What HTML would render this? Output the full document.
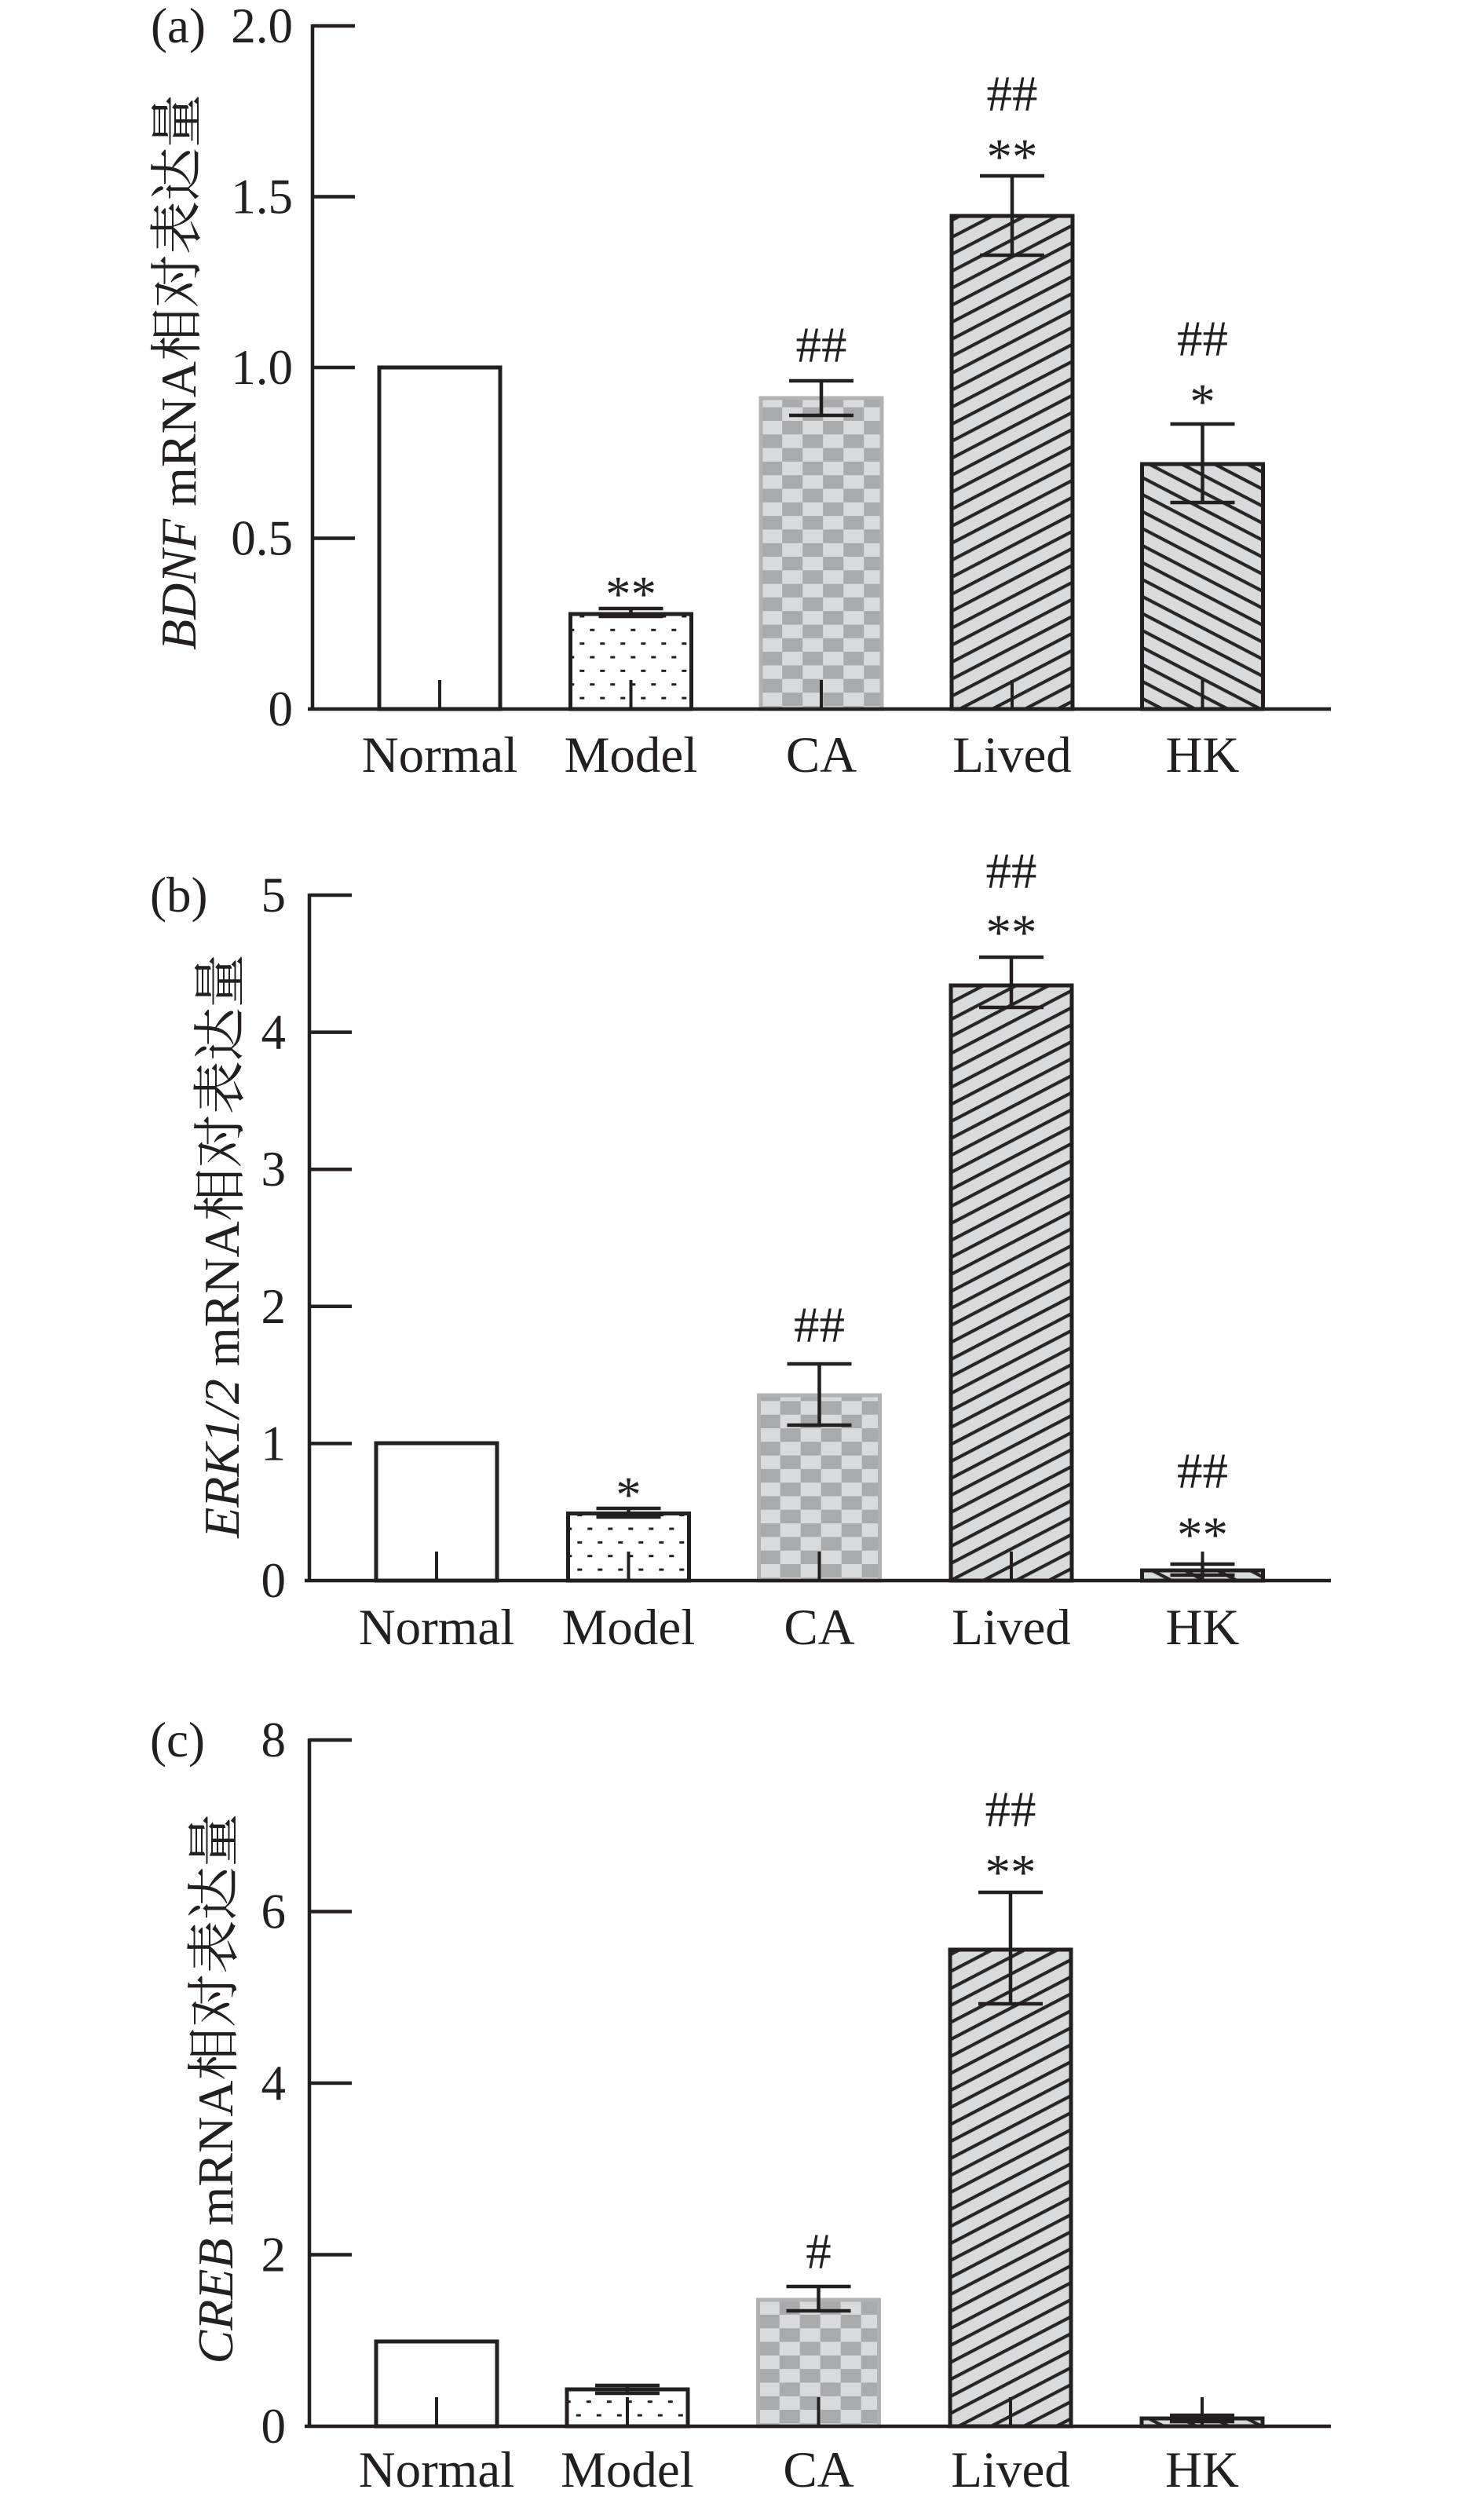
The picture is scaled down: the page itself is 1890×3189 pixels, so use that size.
<!DOCTYPE html>
<html><head><meta charset="utf-8">
<style>
html,body{margin:0;padding:0;background:#fff;}
svg{display:block;}
text{font-family:"Liberation Serif","Noto Serif CJK SC",serif;fill:#231f20;}
</style></head>
<body>
<svg width="1890" height="3189" viewBox="0 0 1890 3189" xmlns="http://www.w3.org/2000/svg">
<defs>
  <pattern id="hatchR" patternUnits="userSpaceOnUse" width="40" height="19.2" patternTransform="rotate(-27.5)">
    <rect width="40" height="19.2" fill="#d9dadc"/>
    <rect y="0" width="40" height="4.2" fill="#262626"/>
  </pattern>
  <pattern id="hatchL" patternUnits="userSpaceOnUse" width="40" height="19.2" patternTransform="rotate(27.5)">
    <rect width="40" height="19.2" fill="#d9dadc"/>
    <rect y="0" width="40" height="4.2" fill="#262626"/>
  </pattern>
  <pattern id="dotA" patternUnits="userSpaceOnUse" x="751.3" y="800.8" width="26" height="34.7">
    <rect width="26" height="34.7" fill="#fff"/>
    <rect x="0" y="0" width="6" height="3" fill="#231f20"/>
    <rect x="13" y="17.35" width="6" height="3" fill="#231f20"/>
  </pattern>
  <pattern id="dotB" patternUnits="userSpaceOnUse" x="748.3" y="1910.8" width="26" height="34.7">
    <rect width="26" height="34.7" fill="#fff"/>
    <rect x="0" y="0" width="6" height="3" fill="#231f20"/>
    <rect x="13" y="17.35" width="6" height="3" fill="#231f20"/>
  </pattern>
  <pattern id="dotC" patternUnits="userSpaceOnUse" x="746.8" y="2987.8" width="26" height="34.7">
    <rect width="26" height="34.7" fill="#fff"/>
    <rect x="0" y="0" width="6" height="3" fill="#231f20"/>
    <rect x="13" y="17.35" width="6" height="3" fill="#231f20"/>
  </pattern>
  <pattern id="chkA" patternUnits="userSpaceOnUse" x="970.2" y="864.7" width="52" height="34.6">
    <rect width="52" height="34.6" fill="#a9aaac"/>
    <rect x="26" y="0" width="26" height="17.3" fill="#d9dadb"/>
    <rect x="0" y="17.3" width="26" height="17.3" fill="#d9dadb"/>
  </pattern>
  <pattern id="chkB" patternUnits="userSpaceOnUse" x="967.7" y="1974.7" width="52" height="34.6">
    <rect width="52" height="34.6" fill="#a9aaac"/>
    <rect x="26" y="0" width="26" height="17.3" fill="#d9dadb"/>
    <rect x="0" y="17.3" width="26" height="17.3" fill="#d9dadb"/>
  </pattern>
  <pattern id="chkC" patternUnits="userSpaceOnUse" x="966.7" y="3051.7" width="52" height="34.6">
    <rect width="52" height="34.6" fill="#a9aaac"/>
    <rect x="26" y="0" width="26" height="17.3" fill="#d9dadb"/>
    <rect x="0" y="17.3" width="26" height="17.3" fill="#d9dadb"/>
  </pattern>
</defs>

<!-- ================= PANEL (a) ================= -->
<g>
  <!-- bars -->
  <rect x="483" y="468" width="154" height="435" fill="#fff" stroke="#231f20" stroke-width="5"/>
  <rect x="726.5" y="782" width="154" height="121" fill="url(#dotA)" stroke="#231f20" stroke-width="5"/>
  <rect x="969" y="507" width="154" height="396" fill="url(#chkA)" stroke="#b1b2b4" stroke-width="5"/>
  <rect x="1212" y="275" width="154" height="628" fill="url(#hatchR)" stroke="#231f20" stroke-width="5"/>
  <rect x="1454.5" y="591" width="154" height="312" fill="url(#hatchL)" stroke="#231f20" stroke-width="5"/>
  <!-- center ticks -->
  <g stroke="#231f20" stroke-width="4">
    <line x1="560" y1="903" x2="560" y2="866"/>
    <line x1="803.5" y1="903" x2="803.5" y2="866"/>
    <line x1="1046" y1="903" x2="1046" y2="866"/>
    <line x1="1289" y1="903" x2="1289" y2="866"/>
    <line x1="1531.5" y1="903" x2="1531.5" y2="866"/>
  </g>
  <!-- axes -->
  <g stroke="#231f20" stroke-width="4.5" fill="none">
    <line x1="398" y1="31" x2="398" y2="905"/>
    <line x1="392" y1="903" x2="1695" y2="903"/>
    <line x1="398" y1="33" x2="452" y2="33"/>
    <line x1="398" y1="250.5" x2="452" y2="250.5"/>
    <line x1="398" y1="468" x2="452" y2="468"/>
    <line x1="398" y1="685.5" x2="452" y2="685.5"/>
  </g>
  <!-- error bars -->
  <g stroke="#231f20" stroke-width="4.5" fill="none">
    <path d="M803.5 775V785M762.5 775H844.5M762.5 785H844.5"/>
    <path d="M1046 485V529M1005 485H1087M1005 529H1087"/>
    <path d="M1289 224V325M1248 224H1330M1248 325H1330"/>
    <path d="M1531.5 540V640M1490.5 540H1572.5M1490.5 640H1572.5"/>
  </g>
  <!-- tick labels -->
  <g font-size="63" text-anchor="end">
    <text x="373" y="54">2.0</text>
    <text x="373" y="271.5">1.5</text>
    <text x="373" y="489">1.0</text>
    <text x="373" y="706.5">0.5</text>
    <text x="373" y="924">0</text>
  </g>
  <text x="192" y="54" font-size="63">(a)</text>
  <!-- annotations -->
  <g font-size="65" text-anchor="middle">
    <text x="803.5" y="778">**</text>
    <text x="1046" y="461">##</text>
    <text x="1289" y="221">**</text>
    <text x="1289" y="141">##</text>
    <text x="1531.5" y="533">*</text>
    <text x="1531.5" y="453">##</text>
  </g>
  <!-- category labels -->
  <g font-size="65" text-anchor="middle">
    <text x="560" y="983">Normal</text>
    <text x="803.5" y="983">Model</text>
    <text x="1046" y="983">CA</text>
    <text x="1289" y="983">Lived</text>
    <text x="1531.5" y="983">HK</text>
  </g>
  <text transform="translate(249,474) rotate(-90)" font-size="64" text-anchor="middle"><tspan font-style="italic">BDNF</tspan> mRNA<tspan font-size="68" font-family="'Noto Serif CJK SC','Noto Sans CJK SC',serif">相对表达量</tspan></text>
</g>

<!-- ================= PANEL (b) ================= -->
<g>
  <rect x="479" y="1838" width="154" height="175" fill="#fff" stroke="#231f20" stroke-width="5"/>
  <rect x="723.5" y="1927.5" width="154" height="85.5" fill="url(#dotB)" stroke="#231f20" stroke-width="5"/>
  <rect x="966.5" y="1777" width="154" height="236" fill="url(#chkB)" stroke="#b1b2b4" stroke-width="5"/>
  <rect x="1211" y="1255" width="154" height="758" fill="url(#hatchR)" stroke="#231f20" stroke-width="5"/>
  <rect x="1454.5" y="2000" width="154" height="13" fill="url(#hatchL)" stroke="#231f20" stroke-width="5"/>
  <g stroke="#231f20" stroke-width="4">
    <line x1="556" y1="2013" x2="556" y2="1976"/>
    <line x1="800.5" y1="2013" x2="800.5" y2="1976"/>
    <line x1="1043.5" y1="2013" x2="1043.5" y2="1976"/>
    <line x1="1288" y1="2013" x2="1288" y2="1976"/>
    <line x1="1531.5" y1="2013" x2="1531.5" y2="1976"/>
  </g>
  <g stroke="#231f20" stroke-width="4.5" fill="none">
    <line x1="394" y1="1138" x2="394" y2="2015"/>
    <line x1="388" y1="2013" x2="1695" y2="2013"/>
    <line x1="394" y1="1140" x2="448" y2="1140"/>
    <line x1="394" y1="1314.6" x2="448" y2="1314.6"/>
    <line x1="394" y1="1489.2" x2="448" y2="1489.2"/>
    <line x1="394" y1="1663.8" x2="448" y2="1663.8"/>
    <line x1="394" y1="1838.4" x2="448" y2="1838.4"/>
  </g>
  <g stroke="#231f20" stroke-width="4.5" fill="none">
    <path d="M800.5 1921V1932M759.5 1921H841.5M759.5 1932H841.5"/>
    <path d="M1043.5 1737V1815M1002.5 1737H1084.5M1002.5 1815H1084.5"/>
    <path d="M1288 1219V1283M1247 1219H1329M1247 1283H1329"/>
    <path d="M1531.5 1992V2006M1490.5 1992H1572.5M1490.5 2006H1572.5"/>
  </g>
  <g font-size="63" text-anchor="end">
    <text x="364" y="1161">5</text>
    <text x="364" y="1335.6">4</text>
    <text x="364" y="1510.2">3</text>
    <text x="364" y="1684.8">2</text>
    <text x="364" y="1859.4">1</text>
    <text x="364" y="2034">0</text>
  </g>
  <text x="191" y="1161" font-size="63">(b)</text>
  <g font-size="65" text-anchor="middle">
    <text x="800.5" y="1925">*</text>
    <text x="1043.5" y="1709">##</text>
    <text x="1288" y="1209">**</text>
    <text x="1288" y="1131">##</text>
    <text x="1531.5" y="1976">**</text>
    <text x="1531.5" y="1895">##</text>
  </g>
  <g font-size="65" text-anchor="middle">
    <text x="556" y="2094">Normal</text>
    <text x="800.5" y="2094">Model</text>
    <text x="1043.5" y="2094">CA</text>
    <text x="1288" y="2094">Lived</text>
    <text x="1531.5" y="2094">HK</text>
  </g>
  <text transform="translate(304,1587) rotate(-90)" font-size="64" text-anchor="middle"><tspan font-style="italic">ERK1/2</tspan> mRNA<tspan font-size="68" font-family="'Noto Serif CJK SC','Noto Sans CJK SC',serif">相对表达量</tspan></text>
</g>

<!-- ================= PANEL (c) ================= -->
<g>
  <rect x="479" y="2982" width="154" height="108" fill="#fff" stroke="#231f20" stroke-width="5"/>
  <rect x="722" y="3043" width="154" height="47" fill="url(#dotC)" stroke="#231f20" stroke-width="5"/>
  <rect x="965.5" y="2929" width="154" height="161" fill="url(#chkC)" stroke="#b1b2b4" stroke-width="5"/>
  <rect x="1210" y="2483" width="154" height="607" fill="url(#hatchR)" stroke="#231f20" stroke-width="5"/>
  <rect x="1454" y="3080" width="154" height="10" fill="url(#hatchL)" stroke="#231f20" stroke-width="5"/>
  <g stroke="#231f20" stroke-width="4">
    <line x1="556" y1="3090" x2="556" y2="3053"/>
    <line x1="799" y1="3090" x2="799" y2="3053"/>
    <line x1="1042.5" y1="3090" x2="1042.5" y2="3053"/>
    <line x1="1287" y1="3090" x2="1287" y2="3053"/>
    <line x1="1531" y1="3090" x2="1531" y2="3053"/>
  </g>
  <g stroke="#231f20" stroke-width="4.5" fill="none">
    <line x1="394" y1="2214" x2="394" y2="3092"/>
    <line x1="388" y1="3090" x2="1695" y2="3090"/>
    <line x1="394" y1="2216" x2="448" y2="2216"/>
    <line x1="394" y1="2434.5" x2="448" y2="2434.5"/>
    <line x1="394" y1="2653" x2="448" y2="2653"/>
    <line x1="394" y1="2871.5" x2="448" y2="2871.5"/>
  </g>
  <g stroke="#231f20" stroke-width="4.5" fill="none">
    <path d="M799 3038V3048M758 3038H840M758 3048H840"/>
    <path d="M1042.5 2912V2943M1001.5 2912H1083.5M1001.5 2943H1083.5"/>
    <path d="M1287 2410V2552M1246 2410H1328M1246 2552H1328"/>
    <path d="M1531 3076V3084M1490 3076H1572M1490 3084H1572"/>
  </g>
  <g font-size="63" text-anchor="end">
    <text x="364" y="2237">8</text>
    <text x="364" y="2455.5">6</text>
    <text x="364" y="2674">4</text>
    <text x="364" y="2892.5">2</text>
    <text x="364" y="3111">0</text>
  </g>
  <text x="191" y="2237" font-size="63">(c)</text>
  <g font-size="65" text-anchor="middle">
    <text x="1042.5" y="2889">#</text>
    <text x="1287" y="2406">**</text>
    <text x="1287" y="2326">##</text>
  </g>
  <g font-size="65" text-anchor="middle">
    <text x="556" y="3167">Normal</text>
    <text x="799" y="3167">Model</text>
    <text x="1042.5" y="3167">CA</text>
    <text x="1287" y="3167">Lived</text>
    <text x="1531" y="3167">HK</text>
  </g>
  <text transform="translate(296,2660) rotate(-90)" font-size="64" text-anchor="middle"><tspan font-style="italic">CREB</tspan> mRNA<tspan font-size="68" font-family="'Noto Serif CJK SC','Noto Sans CJK SC',serif">相对表达量</tspan></text>
</g>
</svg>
</body></html>
